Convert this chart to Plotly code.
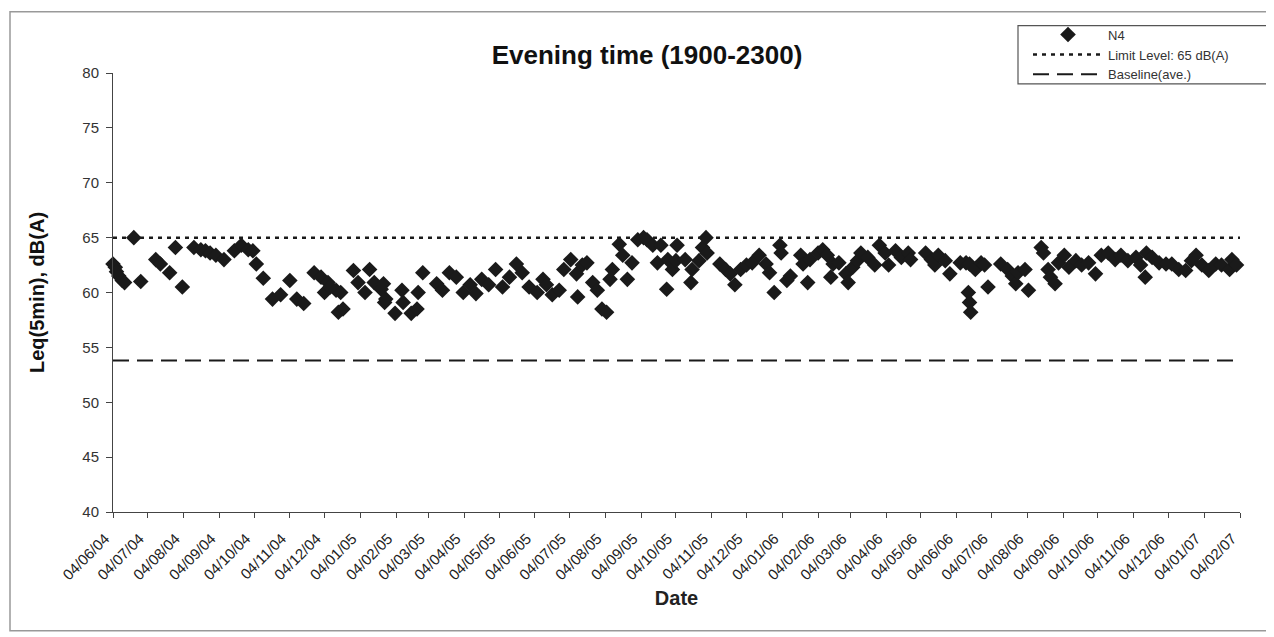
import plotly.graph_objects as go

# ---------------- data ----------------
n4_dates = [
    "2004-06-02", "2004-06-04", "2004-06-06", "2004-06-07", "2004-06-09", "2004-06-12", "2004-06-14",
    "2004-06-22", "2004-06-28", "2004-07-11", "2004-07-15", "2004-07-23", "2004-07-28", "2004-08-03",
    "2004-08-13", "2004-08-19", "2004-08-23", "2004-08-27", "2004-09-01", "2004-09-08", "2004-09-17",
    "2004-09-23", "2004-09-29", "2004-10-03", "2004-10-06", "2004-10-12", "2004-10-20", "2004-10-27",
    "2004-11-04", "2004-11-10", "2004-11-16", "2004-11-25", "2004-12-01", "2004-12-04", "2004-12-07",
    "2004-12-09", "2004-12-14", "2004-12-16", "2004-12-18", "2004-12-20", "2004-12-29", "2005-01-02",
    "2005-01-08", "2005-01-12", "2005-01-16", "2005-01-22", "2005-01-24", "2005-01-25", "2005-01-26",
    "2005-02-03", "2005-02-09", "2005-02-10", "2005-02-17", "2005-02-22", "2005-02-23", "2005-02-27",
    "2005-03-11", "2005-03-16", "2005-03-22", "2005-03-28", "2005-04-03", "2005-04-09", "2005-04-14",
    "2005-04-19", "2005-04-25", "2005-05-01", "2005-05-07", "2005-05-13", "2005-05-19", "2005-05-24",
    "2005-05-30", "2005-06-06", "2005-06-11", "2005-06-14", "2005-06-19", "2005-06-25", "2005-06-29",
    "2005-07-05", "2005-07-10", "2005-07-11", "2005-07-15", "2005-07-19", "2005-07-24", "2005-07-28",
    "2005-08-01", "2005-08-05", "2005-08-08", "2005-08-10", "2005-08-16", "2005-08-19", "2005-08-23",
    "2005-08-27", "2005-09-01", "2005-09-06", "2005-09-09", "2005-09-14", "2005-09-18", "2005-09-21",
    "2005-09-26", "2005-09-27", "2005-10-01", "2005-10-04", "2005-10-05", "2005-10-12", "2005-10-17",
    "2005-10-18", "2005-10-24", "2005-10-27", "2005-10-30", "2005-10-31", "2005-11-11", "2005-11-16",
    "2005-11-20", "2005-11-24", "2005-11-29", "2005-12-04", "2005-12-09", "2005-12-15", "2005-12-21",
    "2005-12-24", "2005-12-28", "2006-01-02", "2006-01-03", "2006-01-08", "2006-01-11", "2006-01-20",
    "2006-01-22", "2006-01-26", "2006-01-28", "2006-02-04", "2006-02-08", "2006-02-12", "2006-02-15",
    "2006-02-17", "2006-02-22", "2006-02-28", "2006-03-02", "2006-03-06", "2006-03-10", "2006-03-13",
    "2006-03-19", "2006-03-25", "2006-03-29", "2006-04-03", "2006-04-06", "2006-04-12", "2006-04-17",
    "2006-04-23", "2006-04-25", "2006-05-08", "2006-05-13", "2006-05-16", "2006-05-19", "2006-05-25",
    "2006-05-29", "2006-06-07", "2006-06-12", "2006-06-14", "2006-06-15", "2006-06-16", "2006-06-15",
    "2006-06-20", "2006-06-25", "2006-06-28", "2006-07-01", "2006-07-12", "2006-07-18", "2006-07-22",
    "2006-07-25", "2006-07-27", "2006-08-02", "2006-08-05", "2006-08-16", "2006-08-18", "2006-08-22",
    "2006-08-24", "2006-08-28", "2006-08-31", "2006-09-05", "2006-09-09", "2006-09-15", "2006-09-20",
    "2006-09-26", "2006-10-02", "2006-10-07", "2006-10-13", "2006-10-19", "2006-10-24", "2006-10-30",
    "2006-11-06", "2006-11-10", "2006-11-14", "2006-11-15", "2006-11-20", "2006-11-26", "2006-12-02",
    "2006-12-07", "2006-12-13", "2006-12-19", "2006-12-24", "2006-12-28", "2007-01-02", "2007-01-08",
    "2007-01-14", "2007-01-19", "2007-01-26", "2007-01-28", "2007-02-01",
]
n4_leq = [
    62.8, 62.6, 62.3, 61.9, 61.5, 61.1, 60.9,
    65.0, 61.0, 63.0, 62.6, 61.8, 64.1, 60.5,
    64.1, 63.9, 63.8, 63.6, 63.4, 63.0, 63.8,
    64.3, 63.9, 63.8, 62.6, 61.3, 59.4, 59.8,
    61.1, 59.4, 59.0, 61.8, 61.4, 60.0, 60.9,
    60.5, 60.2, 58.2, 60.0, 58.5, 62.0, 60.9,
    60.0, 62.1, 60.9, 60.3, 60.8, 59.1, 59.4,
    58.1, 60.2, 59.1, 58.1, 58.5, 60.0, 61.8,
    60.8, 60.2, 61.8, 61.4, 60.0, 60.7, 59.9,
    61.2, 60.7, 62.1, 60.5, 61.4, 62.6, 61.8,
    60.5, 60.0, 61.2, 60.7, 59.8, 60.2, 62.1,
    63.0, 61.7, 59.6, 62.5, 62.7, 60.9, 60.2,
    58.5, 58.2, 61.2, 62.1, 64.4, 63.4, 61.2,
    62.7, 64.8, 65.0, 64.8, 64.3, 62.7, 64.3,
    60.3, 63.0, 62.1, 62.9, 64.3, 63.0, 60.9,
    62.1, 62.9, 64.1, 65.0, 63.6, 62.6, 62.1,
    61.7, 60.7, 62.1, 62.5, 62.7, 63.4, 62.6,
    61.8, 60.0, 64.3, 63.6, 61.1, 61.5, 63.4,
    62.6, 60.9, 63.0, 63.6, 63.9, 63.4, 61.4,
    62.6, 62.7, 61.7, 60.9, 62.3, 62.9, 63.6,
    63.2, 62.5, 64.3, 63.6, 62.5, 63.8, 63.2,
    63.6, 63.0, 63.6, 63.0, 62.5, 63.4, 62.9,
    61.7, 62.7, 62.7, 60.0, 59.1, 58.2, 62.6,
    62.1, 62.7, 62.5, 60.5, 62.6, 62.1, 61.5,
    60.8, 61.8, 62.1, 60.2, 64.1, 63.6, 62.1,
    61.4, 60.8, 62.7, 63.4, 62.3, 62.9, 62.5,
    62.7, 61.7, 63.4, 63.6, 63.0, 63.4, 62.9,
    63.2, 62.5, 61.4, 63.6, 63.2, 62.7, 62.6,
    62.6, 62.1, 62.0, 62.9, 63.4, 62.5, 62.0,
    62.6, 62.5, 62.1, 63.0, 62.5,
]

period = ["2004-06-04", "2007-02-04"]
limit_level = [65, 65]
baseline_ave = [53.8, 53.8]

title_text = "Evening time (1900-2300)"
x_title = "Date"
y_title = "Leq(5min), dB(A)"

FONT = "Arial, 'Liberation Sans', sans-serif"
INK = "#1a1a1a"

fig = go.Figure()
fig.add_trace(go.Scatter(
    x=n4_dates, y=n4_leq, mode="markers", name="N4",
    marker=dict(symbol="diamond", size=12, color=INK, line=dict(width=0)),
    cliponaxis=False,
))
fig.add_trace(go.Scatter(
    x=period, y=limit_level, mode="lines", name="Limit Level: 65 dB(A)",
    line=dict(color=INK, width=2.5, dash="4px,5px"),
))
fig.add_trace(go.Scatter(
    x=period, y=baseline_ave, mode="lines", name="Baseline(ave.)",
    line=dict(color=INK, width=2, dash="16px,8px"),
))

# page has an 8px body margin; figure is sized to fill the rest of the window
OFF = 8
FW, FH = 1274 - OFF, 637 - OFF
# plot area on screen: x 113..1240, y 68..512
SX0, SX1, SY0, SY1 = 113, 1240, 68, 512
L, R, T, B = SX0 - OFF, 1274 - SX1, SY0 - OFF, 637 - SY1


def px(xs):
    return (xs - SX0) / (SX1 - SX0)


def py(ys):
    return (SY1 - ys) / (SY1 - SY0)


fig.update_layout(
    width=FW, height=FH,
    margin=dict(l=L, r=R, t=T, b=B),
    paper_bgcolor="white", plot_bgcolor="white",
    font=dict(family=FONT, color="#222"),
    title=dict(text="<b>" + title_text + "</b>", x=(647 - OFF) / FW, xanchor="center",
               y=1 - (55 - OFF) / FH, yanchor="middle", font=dict(size=26, color="#111")),
    showlegend=True,
    legend=dict(x=px(1028), xanchor="left", y=py(14), yanchor="top",
                bgcolor="rgba(0,0,0,0)", borderwidth=0,
                font=dict(size=13, color="#333"), itemwidth=70, tracegroupgap=0),
    xaxis=dict(
        type="date", range=period, tick0=period[0], dtick="M1", tickformat="%d/%m/%y",
        tickangle=-45, ticks="outside", ticklen=5, tickcolor="#444",
        showline=True, linecolor="#444", linewidth=1, showgrid=False, zeroline=False,
        tickfont=dict(size=15, color="#222"), ticklabelstandoff=6, ticklabelshift=-8,
        title=dict(text="<b>" + x_title + "</b>", font=dict(size=20, color="#222"), standoff=8),
    ),
    yaxis=dict(
        range=[40, 80], dtick=5, ticks="outside", ticklen=6, tickcolor="#444",
        showline=True, linecolor="#444", linewidth=1, showgrid=False, zeroline=False,
        tickfont=dict(size=15, color="#333"), ticklabelstandoff=4,
        title=dict(text="<b>" + y_title + "</b>", font=dict(size=20, color="#111"), standoff=32),
    ),
    shapes=[
        dict(type="rect", xref="paper", yref="paper", x0=px(10), x1=px(1269), y0=py(632), y1=py(6),
             line=dict(color="#999", width=1.5), fillcolor="rgba(0,0,0,0)", layer="below"),
        dict(type="rect", xref="paper", yref="paper", x0=px(1018), x1=px(1267), y0=py(79), y1=py(20),
             line=dict(color="#555", width=1.2), fillcolor="white", layer="below"),
    ],
)

fig.write_html("out.html")
